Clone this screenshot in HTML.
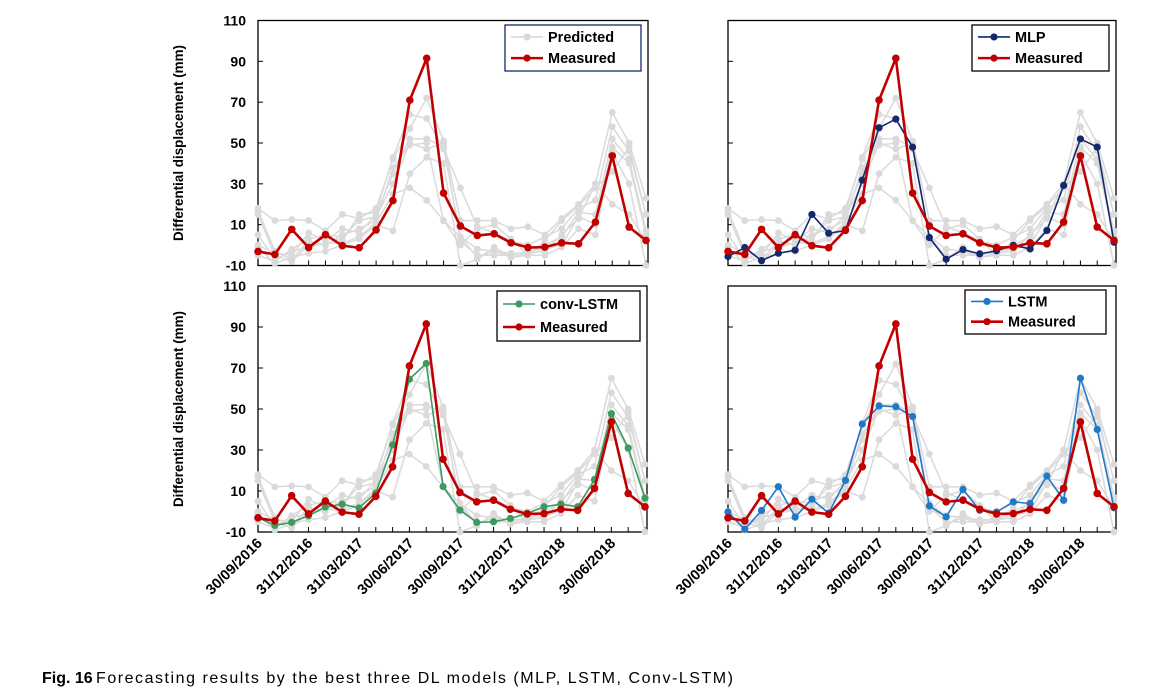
<!DOCTYPE html>
<html><head><meta charset="utf-8"><style>
body{margin:0;background:#fff;width:1166px;height:695px;overflow:hidden;font-family:"Liberation Sans",sans-serif}
svg{position:absolute;left:0;top:0}
</style></head><body>
<svg id="chart" width="1166" height="695" viewBox="0 0 1166 695" xmlns="http://www.w3.org/2000/svg"></svg>
<script>
const dateLabels=["30/09/2016","31/12/2016","31/03/2017","30/06/2017","30/09/2017","31/12/2017","31/03/2018","30/06/2018"];
const yTicks=[-10,10,30,50,70,90,110];
const measured=[-3.1,-4.6,7.7,-1.2,5.1,-0.3,-1.3,7.4,21.8,71,91.5,25.5,9.3,4.7,5.5,1.1,-1.2,-1,1.1,0.6,11.3,43.7,8.8,2.3];
const mlp=[-5.6,-1.2,-7.6,-4,-2.5,15,5.8,7.1,31.8,57.5,61.7,48,3.7,-6.9,-2.2,-4.3,-2.8,-0.1,-1.9,7.1,29.2,52,48,1.4];
const convLstm=[-3,-6.8,-5.3,-2.1,2.2,3.6,1.7,9,32.5,64.6,72.2,12.2,0.7,-5.3,-5,-3.4,-0.9,2.3,3.6,2.3,15.6,47.7,31,6.5];
const lstm=[-0.2,-8.7,0.5,12.1,-2.7,6,-0.8,15.2,42.7,51.5,51.1,46.3,2.7,-2.6,10.8,0.6,-0.3,4.7,3.9,17.3,5.5,65,40,1.8];
const pred1=[18,12,12.5,12,7,15,13,18,42,57,72,51,12,12,12,8,9,5,13,20,30,65,50,23];
const pred2=[15,-5,-8,0,4,2,15,16,43,64,62,47,28,9,6,2,0,4,8,18,22,58,46,15];
const pred3=[0,-4,-5,6,2,8,6,15,35,52,52,48,4,-6,-3,-4,-4,0,4,16,15,52,42,7];
const pred4=[-5,-8,-2,3,5,4,12,14,30,50,47,50,2,-5,-5,-5,-3,-2,0,14,10,48,40,5];
const pred5=[-1,-9,-6,-4,-3,0,3,10,7,35,43,40,-10,-7,-1,-6,-5,-5,-1,8,5,45,30,-10];
const pred6=[17,-3,-7,2,0,5,8,12,38,49,50,12,0,8,10,3,-5,2,12,19,28,36,48,15];
const pred7=[5,-7,-3,-1,1,1,4,11,25,28,22,12,4,-2,-3,-6,-4,-3,5,13,30,20,15,2];
const predicted=[pred1,pred2,pred3,pred4,pred5,pred6,pred7];

const NS="http://www.w3.org/2000/svg";
const svg=document.getElementById('chart');
function mk(tag,attrs,parent){const e=document.createElementNS(NS,tag);for(const k in attrs)e.setAttribute(k,attrs[k]);(parent||svg).appendChild(e);return e;}

const panels=[
 {name:'mlp',x0:258,x1:646,y0:20.5,y1:265.5,model:null,label:'Predicted',color:'#d9d9d9',leg:[505,25,136,46],left:true,bottom:false},
 {name:'mlp',x0:728,x1:1114,y0:20.5,y1:265.5,model:mlp,label:'MLP',color:'#14286e',leg:[972,25,137,46],left:false,bottom:false},
 {name:'conv-lstm',x0:258,x1:645,y0:286,y1:532,model:convLstm,label:'conv-LSTM',color:'#3a9a5f',leg:[497,291,143,50],left:true,bottom:true},
 {name:'lstm',x0:728,x1:1114,y0:286,y1:532,model:lstm,label:'LSTM',color:'#1f78c8',leg:[965,290,141,44],left:false,bottom:true}
];

panels.forEach((p,pi)=>{
 const g=mk('g',{});
 
 
 const n=measured.length;
 const xs=i=>p.x0+i*(p.x1-p.x0)/(n-1);
 const ys=v=>p.y1-(v+10)*(p.y1-p.y0)/120;
 const clip='clip'+pi;
 const cp=mk('clipPath',{id:clip},g);mk('rect',{x:p.x0-6,y:p.y0,width:p.x1-p.x0+12,height:p.y1-p.y0+6},cp);
 const fr=mk('rect',{x:p.x0,y:p.y0,width:p.x1-p.x0+2,height:p.y1-p.y0,fill:'none',stroke:'#000','stroke-width':1.3},g);
 
 yTicks.forEach(t=>{
  mk('line',{x1:p.x0,x2:p.x0+5,y1:ys(t),y2:ys(t),stroke:'#000','stroke-width':1},g);
  if(p.left){const tx=mk('text',{x:p.x0-12,y:ys(t)+5,'text-anchor':'end','font-size':14,'font-weight':'bold',fill:'#000'},g);tx.textContent=t;
   }
 });
 for(let i=0;i<n;i++)mk('line',{x1:xs(i),x2:xs(i),y1:p.y1,y2:p.y1-5,stroke:'#000','stroke-width':1},g);
 if(p.left){const yt=mk('text',{x:0,y:0,transform:`translate(183,${(p.y0+p.y1)/2}) rotate(-90)`,'text-anchor':'middle','font-size':14,'font-weight':'bold',fill:'#000',textLength:196,lengthAdjust:'spacingAndGlyphs'},g);
  yt.textContent='Differential displacement (mm)';}
 if(p.bottom){dateLabels.forEach((d,k)=>{const x=xs(k*3);
  const t=mk('text',{x:0,y:0,transform:`translate(${x+5},${p.y1+12}) rotate(-45)`,'text-anchor':'end','font-size':14.5,'font-weight':'bold',fill:'#000'},g);
  t.textContent=d;});}
 const plot=mk('g',{'clip-path':`url(#${clip})`},g);
 function series(arr,color,w,r,nm){
  const s=mk('g',{},plot);
  mk('polyline',{points:arr.map((v,i)=>xs(i)+','+ys(v)).join(' '),fill:'none',stroke:color,'stroke-width':w,'stroke-linejoin':'round'},s);
  arr.forEach((v,i)=>{mk('circle',{cx:xs(i),cy:ys(v),r:r,fill:color},s);});
 }
 predicted.forEach((a,k)=>series(a,'#dadada',1.5,3.4,'predicted-line-'+(k+1)));
 if(p.model)series(p.model,p.color,1.6,3.6,p.name+'-line');
 series(measured,'#c00000',2.6,3.8,'measured-line');
 const [lx,ly,lw,lh]=p.leg;
 const lg=mk('g',{},g);
 mk('rect',{x:lx,y:ly,width:lw,height:lh,fill:'#fff',stroke:pi===0?'#14286e':'#000','stroke-width':1.3},lg);
 const rows=[[p.label,p.color,1.6],['Measured','#c00000',2.6]];
 rows.forEach((r,k)=>{const yy=ly+lh*(k===0?0.26:0.72);
  const e=mk('g',{},lg);
  mk('line',{x1:lx+6,x2:lx+38,y1:yy,y2:yy,stroke:r[1],'stroke-width':r[2]},e);
  mk('circle',{cx:lx+22,cy:yy,r:3.6,fill:r[1]},e);
  const t=mk('text',{x:lx+43,y:yy+5,'font-size':14.5,'font-weight':'bold',fill:'#000'},e);t.textContent=r[0];});
});
const cap=mk('text',{x:42,y:683,'font-size':16,fill:'#000'});

const b=mk('tspan',{'font-weight':'bold'},cap);b.textContent='Fig. 16';
const r=mk('tspan',{x:96,textLength:637,lengthAdjust:'spacing'},cap);r.textContent='Forecasting results by the best three DL models (MLP, LSTM, Conv-LSTM)';
</script>
</body></html>
